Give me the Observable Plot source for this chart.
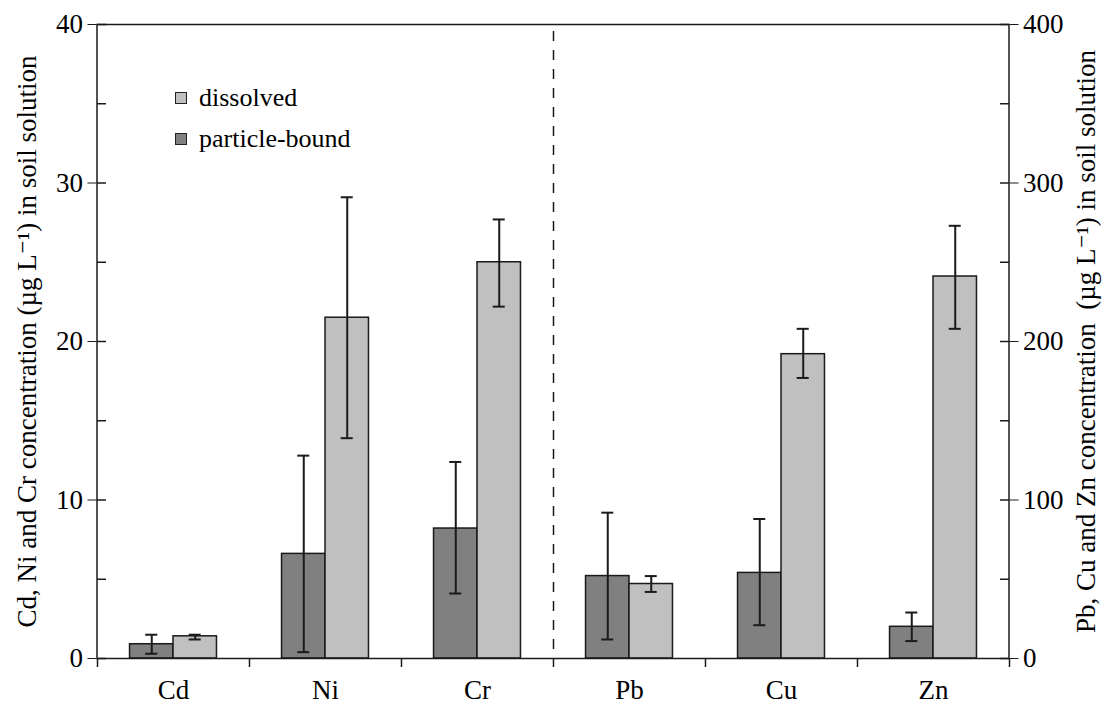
<!DOCTYPE html>
<html>
<head>
<meta charset="utf-8">
<script src="https://cdn.jsdelivr.net/npm/d3@7"></script>
<script src="https://cdn.jsdelivr.net/npm/@observablehq/plot@0.6"></script>
<style>
  html, body { margin: 0; padding: 0; background: #fff; }
  #wrap { position: relative; width: 1102px; height: 707px; font-family: "Liberation Serif", "Times New Roman", "DejaVu Serif", serif; }
  #wrap svg text { font-family: "Liberation Serif", "Times New Roman", "DejaVu Serif", serif; }
  .legend { position: absolute; left: 175px; top: 77px; font-size: 26px; color: #000; line-height: 41px; }
  .legend .row { display: flex; align-items: center; }
  .legend .sw { width: 10px; height: 10px; border: 1.2px solid #222; margin-right: 12px; }
</style>
</head>
<body>
<div id="wrap"></div>
<script>
// ---- data ----
const categories = ["Cd", "Ni", "Cr", "Pb", "Cu", "Zn"];
const onRightAxis = [false, false, false, true, true, true];
const seriesNames = ["particle-bound", "dissolved"];
const particleBound     = [0.9, 6.6, 8.2, 52, 54, 20];
const particleBoundLow  = [0.3, 0.4, 4.1, 12, 21, 11];
const particleBoundHigh = [1.5, 12.8, 12.4, 92, 88, 29];
const dissolved     = [1.4, 21.5, 25.0, 47, 192, 241];
const dissolvedLow  = [1.2, 13.9, 22.2, 42, 177, 208];
const dissolvedHigh = [1.5, 29.1, 27.7, 52, 208, 273];
const leftTicks = [0, 10, 20, 30, 40];
const rightTicks = [0, 100, 200, 300, 400];
const minorTicks = [0, 5, 10, 15, 20, 25, 30, 35, 40];
const rightFactor = 10; // right axis 0–400 vs left axis 0–40
const leftTitle = "Cd, Ni and Cr concentration (µg L⁻¹) in soil solution";
const rightTitle = "Pb, Cu and Zn concentration  (µg L⁻¹) in soil solution";

// ---- table ----
const rows = [];
categories.forEach((c, i) => {
  const f = onRightAxis[i] ? rightFactor : 1;
  rows.push({cat: c, series: seriesNames[0], v: particleBound[i] / f, lo: particleBoundLow[i] / f, hi: particleBoundHigh[i] / f});
  rows.push({cat: c, series: seriesNames[1], v: dissolved[i] / f, lo: dissolvedLow[i] / f, hi: dissolvedHigh[i] / f});
});
const pRows = rows.filter(d => d.series === seriesNames[0]);
const dRows = rows.filter(d => d.series === seriesNames[1]);

// ---- layout ----
const W = 1102, H = 707;
const mL = 96.5, mR = 93.5, mT = 24, mB = 49;
const bw = (W - mL - mR) / categories.length;
const barW = bw * 0.286;
const cap = 6;
const ink = "#1a1a1a";

const chart = Plot.plot({
  width: W, height: H,
  marginLeft: mL, marginRight: mR, marginTop: mT, marginBottom: mB,
  style: "font-family: 'Liberation Serif', 'Times New Roman', serif; font-size: 26px; color: #000; background: #fff;",
  x: {domain: categories, padding: 0, label: null},
  y: {domain: [0, 40], label: null},
  marks: [
    Plot.barY(pRows, {x: "cat", y: "v", fill: "#808080", stroke: ink, strokeWidth: 1.5,
      insetLeft: bw / 2 - barW, insetRight: bw / 2}),
    Plot.barY(dRows, {x: "cat", y: "v", fill: "#c0c0c0", stroke: ink, strokeWidth: 1.5,
      insetLeft: bw / 2, insetRight: bw / 2 - barW}),
    // error bars
    Plot.ruleX(pRows, {x: "cat", y1: "lo", y2: "hi", dx: -barW / 2, stroke: ink, strokeWidth: 2}),
    Plot.ruleX(dRows, {x: "cat", y1: "lo", y2: "hi", dx: barW / 2, stroke: ink, strokeWidth: 2}),
    Plot.tickY(pRows, {x: "cat", y: "lo", stroke: ink, strokeWidth: 2,
      insetLeft: bw / 2 - barW / 2 - cap, insetRight: bw / 2 + barW / 2 - cap}),
    Plot.tickY(pRows, {x: "cat", y: "hi", stroke: ink, strokeWidth: 2,
      insetLeft: bw / 2 - barW / 2 - cap, insetRight: bw / 2 + barW / 2 - cap}),
    Plot.tickY(dRows, {x: "cat", y: "lo", stroke: ink, strokeWidth: 2,
      insetLeft: bw / 2 + barW / 2 - cap, insetRight: bw / 2 - barW / 2 - cap}),
    Plot.tickY(dRows, {x: "cat", y: "hi", stroke: ink, strokeWidth: 2,
      insetLeft: bw / 2 + barW / 2 - cap, insetRight: bw / 2 - barW / 2 - cap}),
    // dashed separator between the two axis groups
    Plot.ruleX([categories[3]], {x: d => d, dx: -bw / 2, stroke: ink, strokeWidth: 1.5,
      strokeDasharray: "10,9", strokeDashoffset: 12}),
    // frame
    Plot.frame({stroke: ink, strokeWidth: 1.5}),
    // category boundary ticks on the x axis
    Plot.ruleX(categories, {x: d => d, y1: 0, y2: 0, dx: -bw / 2, insetBottom: -9, stroke: ink, strokeWidth: 1.5}),
    Plot.ruleX([categories[categories.length - 1]], {x: d => d, y1: 0, y2: 0, dx: bw / 2, insetBottom: -9, stroke: ink, strokeWidth: 1.5}),
    // inner ticks
    Plot.tickY(minorTicks, {y: d => d, x: () => categories[0], insetRight: bw - 9, stroke: ink, strokeWidth: 1.5}),
    Plot.tickY(minorTicks, {y: d => d, x: () => categories[categories.length - 1], insetLeft: bw - 9, stroke: ink, strokeWidth: 1.5}),
    // axes
    Plot.axisX({tickSize: 0, tickPadding: 21, fontSize: 27, label: null}),
    Plot.axisY(leftTicks, {anchor: "left", tickSize: 9, tickPadding: 5, fontSize: 27, stroke: ink,
      label: leftTitle, labelAnchor: "center", labelOffset: 80, labelArrow: "none", fontSize: 27}),
    Plot.axisY(rightTicks.map(t => t / rightFactor), {anchor: "right", tickSize: 9, tickPadding: 5, fontSize: 27, stroke: ink,
      tickFormat: (d, i) => rightTicks[i],
      label: rightTitle, labelAnchor: "center", labelOffset: 86, labelArrow: "none"})
  ]
});

const wrap = document.getElementById("wrap");
wrap.appendChild(chart);

// legend (inside the plot area, top-left)
const legend = document.createElement("div");
legend.className = "legend";
[["dissolved", "#c0c0c0"], ["particle-bound", "#808080"]].forEach(([name, col]) => {
  const r = document.createElement("div");
  r.className = "row";
  const sw = document.createElement("span");
  sw.className = "sw";
  sw.style.background = col;
  const t = document.createElement("span");
  t.textContent = name;
  r.appendChild(sw); r.appendChild(t);
  legend.appendChild(r);
});
wrap.appendChild(legend);
</script>
</body>
</html>
